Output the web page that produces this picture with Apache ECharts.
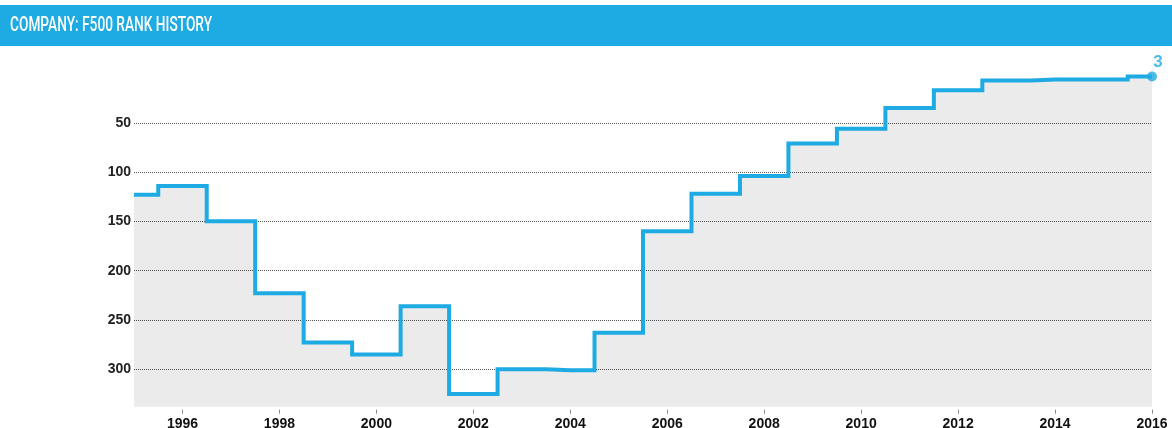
<!DOCTYPE html>
<html>
<head>
<meta charset="utf-8">
<script src="https://cdn.jsdelivr.net/npm/echarts@6/dist/echarts.min.js"></script>
<style>
  html, body { margin: 0; padding: 0; background: #fff; overflow: hidden; }
  #chart { width: 1172px; height: 428px; }
</style>
</head>
<body>
<div id="chart"></div>
<script>
// ---- data ----
const titleText = 'COMPANY: F500 RANK HISTORY';
const years = [1995, 1996, 1997, 1998, 1999, 2000, 2001, 2002, 2003, 2004, 2005,
               2006, 2007, 2008, 2009, 2010, 2011, 2012, 2013, 2014, 2015, 2016];
const ranks = [123, 114, 150, 223, 273, 285, 236, 325, 300, 301, 263,
               160, 122, 104, 71, 56, 35, 17, 7, 6, 6, 3];
const xTicks = [1996, 1998, 2000, 2002, 2004, 2006, 2008, 2010, 2012, 2014, 2016];
const yTicks = [50, 100, 150, 200, 250, 300];

// ---- styles ----
const BLUE = '#1eaae2';
const W = 1172;

const titleFont = '500 20px Roboto, "Liberation Sans", sans-serif';
const cv = document.createElement('canvas').getContext('2d');
cv.font = titleFont;
const titleScale = 202 / cv.measureText(titleText).width;

const seriesData = years.map((y, i) => [y, ranks[i]]);
const last = seriesData[seriesData.length - 1];

const chart = echarts.init(document.getElementById('chart'), null, { renderer: 'canvas' });
chart.setOption({
  animation: false,
  backgroundColor: '#fff',
  graphic: [
    { type: 'rect', left: 0, top: 5, shape: { width: W, height: 41 }, style: { fill: BLUE }, z: 0 },
    { type: 'text', x: 10, y: 25.5, scaleX: titleScale,
      style: { text: titleText, font: titleFont, fill: '#fff', textVerticalAlign: 'middle' }, z: 1 }
  ],
  grid: { left: 134, right: 20, top: 73.5, bottom: 21.3, containLabel: false, outerBoundsMode: 'none' },
  xAxis: {
    type: 'value', min: 1995, max: 2016,
    offset: 3,
    axisLine: { show: false, onZero: false },
    axisTick: { show: true, length: 4, customValues: xTicks, lineStyle: { color: '#888', width: 1 } },
    axisLabel: { customValues: xTicks, margin: 7, color: '#111', fontSize: 14, fontWeight: 'bold',
                 fontFamily: '"Liberation Sans", Arial, sans-serif', formatter: v => String(v) },
    splitLine: { show: false }
  },
  yAxis: {
    type: 'value', inverse: true, min: 0, max: 338,
    axisLine: { show: false },
    axisTick: { show: false, customValues: yTicks },
    axisLabel: { customValues: yTicks, margin: 3, color: '#222', fontSize: 14, fontWeight: 'bold',
                 fontFamily: '"Liberation Sans", Arial, sans-serif' },
    splitLine: { show: true, lineStyle: { color: '#555', type: [1, 1], width: 1 } }
  },
  series: [
    {
      type: 'line', step: 'middle', data: seriesData, symbol: 'none',
      lineStyle: { color: BLUE, width: 4, join: 'miter' },
      areaStyle: { color: 'rgba(0,0,0,0.078)', opacity: 1, origin: 'end' },
      z: 2
    },
    {
      type: 'scatter', data: [last], symbol: 'circle', symbolSize: 10, clip: false,
      itemStyle: { color: BLUE },
      label: { show: true, position: 'top', offset: [6, 4], formatter: p => String(p.value[1]),
               color: BLUE, fontSize: 17, fontWeight: 'bold', fontFamily: '"Liberation Sans", Arial, sans-serif' },
      z: 3
    }
  ]
});
</script>
</body>
</html>
